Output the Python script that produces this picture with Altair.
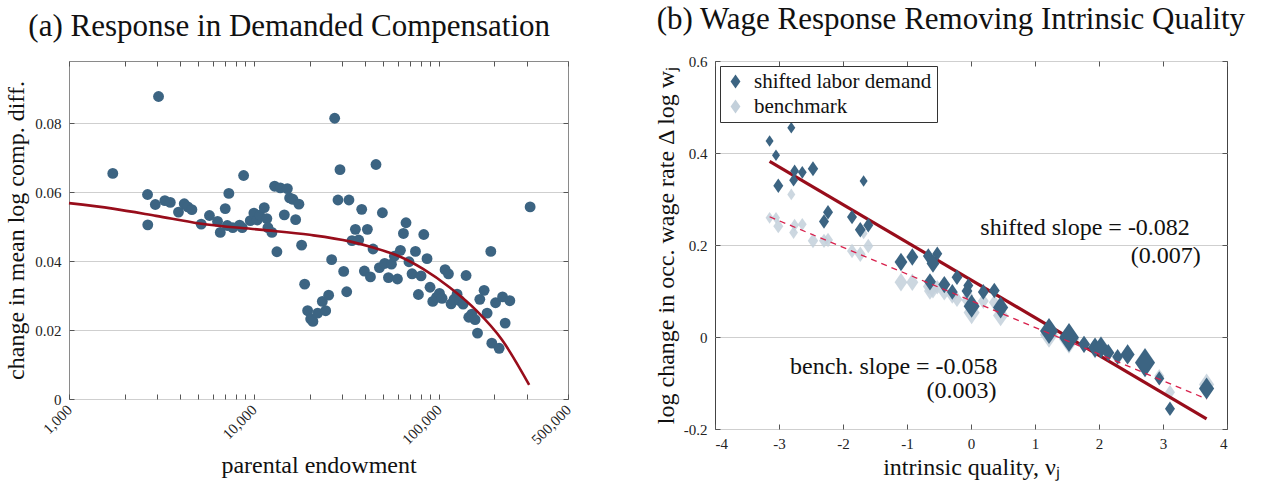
import altair as alt
import pandas as pd

# ---------------- Panel (a): demanded compensation by parental endowment ----------------
endowment = [
    1725, 3050, 2660, 2667, 2930, 3300, 3530, 3910, 4200, 4390, 4620, 5190, 5750, 6360,
    6580, 7000, 7320, 7180, 7690, 8370, 8650, 8800, 9560, 10000, 10430, 10740, 11380,
    11750, 11910, 12520, 12940, 13900, 15170, 15610, 16260, 14610, 17520, 16820, 13320,
    18120, 18820, 19530, 20280, 20860, 22130, 23450, 24450, 25370, 26340, 27350, 28500,
    29220, 30600, 31770, 32680, 33930, 35400, 36890, 38300, 39600, 41100, 42700, 44100,
    45760, 47750, 49550, 51000, 53430, 55460, 57550, 59760, 62030, 64400, 66500, 69000,
    71700, 74800, 77600, 80200, 82960, 86400, 89700, 92800, 97200, 100900, 104200,
    108200, 112800, 116600, 121000, 125600, 129900, 135400, 140500, 145300, 150900,
    157200, 162000, 166700, 175900, 182600, 191200, 202800, 221300, 242300, 228600,
    193600, 212100, 312000,
]
comp_change = [
    0.0654, 0.0877, 0.0593, 0.0505, 0.0564, 0.0575, 0.0570, 0.0542, 0.0566, 0.0557,
    0.0549, 0.0507, 0.0532, 0.0515, 0.0483, 0.0552, 0.0596, 0.0503, 0.0497, 0.0504,
    0.0497, 0.0648, 0.0517, 0.0539, 0.0519, 0.0533, 0.0555, 0.0523, 0.0497, 0.0483,
    0.0617, 0.0612, 0.0610, 0.0583, 0.0579, 0.0534, 0.0565, 0.0520, 0.0427, 0.0446,
    0.0333, 0.0256, 0.0232, 0.0225, 0.0249, 0.0283, 0.0256, 0.0301, 0.0404, 0.0814,
    0.0577, 0.0665, 0.0370, 0.0311, 0.0577, 0.0459, 0.0492, 0.0461, 0.0550, 0.0371,
    0.0492, 0.0354, 0.0435, 0.0680, 0.0381, 0.0540, 0.0393, 0.0352, 0.0391, 0.0414,
    0.0348, 0.0431, 0.0480, 0.0511, 0.0398, 0.0363, 0.0428, 0.0303, 0.0357, 0.0477,
    0.0407, 0.0324, 0.0283, 0.0295, 0.0306, 0.0292, 0.0375, 0.0363, 0.0276, 0.0289,
    0.0304, 0.0285, 0.0275, 0.0358, 0.0237, 0.0246, 0.0230, 0.0191, 0.0289, 0.0315,
    0.0249, 0.0428, 0.0279, 0.0296, 0.0285, 0.0220, 0.0162, 0.0147, 0.0557,
]
# smoothed fit through the bins
fit_endowment = [1000, 1725, 2960, 5080, 10740, 20030, 32960, 44100, 61490, 82220,
                 114700, 160000, 220100, 308300]
fit_comp = [0.0568, 0.0552, 0.0531, 0.0509, 0.0491, 0.0476, 0.0457, 0.0439, 0.0413,
            0.0377, 0.0323, 0.0256, 0.0171, 0.0041]

x_tick_values = [1000, 2000, 3000, 4000, 5000, 6000, 7000, 8000, 9000,
                 10000, 20000, 30000, 40000, 50000, 60000, 70000, 80000, 90000,
                 100000, 200000, 300000, 500000]
x_tick_labels = [1000, 10000, 100000, 500000]
y_tick_values_a = [0, 0.02, 0.04, 0.06, 0.08]

# ---------------- Panel (b): wage response vs intrinsic quality ----------------
quality = [
    -3.147, -2.808, -3.047, -3.011, -2.756, -2.772, -2.636, -2.469, -1.678, -2.234,
    -2.297, -1.859, -1.730, -1.605, -1.094, -0.917, -0.667, -0.527, -0.594, -0.641,
    -0.417, -0.219, -0.292, -0.042, -0.063, 0.010, 0.192, 0.364, 0.463, 1.219,
    1.531, 1.766, 1.938, 2.031, 2.145, 2.291, 2.447, 2.719, 2.942, 3.109, 3.681,
]
shifted = [
    0.426, 0.455, 0.395, 0.329, 0.361, 0.341, 0.358, 0.366, 0.339, 0.271,
    0.251, 0.261, 0.233, 0.243, 0.163, 0.174, 0.176, 0.181, 0.160, 0.120,
    0.114, 0.130, 0.098, 0.112, 0.100, 0.067, 0.098, 0.101, 0.064, 0.013,
    -0.001, -0.016, -0.023, -0.023, -0.034, -0.043, -0.038, -0.056, -0.090, -0.156, -0.112,
]
benchmark = [
    0.259, 0.310, 0.259, 0.241, 0.243, 0.227, 0.245, 0.209, 0.225, 0.211,
    0.209, 0.187, 0.180, 0.198, 0.119, 0.119, 0.110, 0.108, 0.104, 0.100,
    0.098, 0.082, 0.089, 0.090, 0.080, 0.053, 0.078, 0.075, 0.047, 0.005,
    -0.005, -0.016, -0.025, -0.022, -0.034, -0.045, -0.038, -0.055, -0.085, -0.120, -0.103,
]
weight = [
    1.0, 1.0, 1.0, 1.25, 1.1, 1.1, 1.1, 1.3, 1.0, 1.25,
    1.25, 1.25, 1.35, 1.25, 1.6, 1.5, 1.35, 1.25, 1.6, 1.5,
    1.5, 1.35, 1.35, 1.25, 1.35, 2.0, 1.35, 1.35, 1.9, 2.25,
    2.5, 1.5, 1.75, 1.9, 1.5, 1.35, 1.75, 2.5, 1.25, 1.25, 1.9,
]
shifted_slope, shifted_intercept = -0.082, 0.124
bench_slope, bench_intercept = -0.058, 0.0789
series_names = ["shifted labor demand", "benchmark"]

FONT = "Liberation Serif"
BLUE = "#3c6482"
LIGHT = "#c3d0db"
RED = "#980d1b"
DASH_RED = "#d8204c"
AXIS_GREY = "#555"
DIAMOND = "M0,-1.3L0.9,0L0,1.3L-0.9,0Z"
TICK = 5  # inward tick length


def main_axis(title, values, label_expr, grid, pad, **kw):
    """Labelled axis whose ticks point into the plot (axis shifted inward by TICK)."""
    return alt.Axis(
        title=title, values=values, labelExpr=label_expr, grid=grid, domain=False,
        offset=-TICK, tickSize=TICK, labelPadding=pad + TICK, **kw,
    )


def tick_axis(orient, values):
    """Unlabelled axis on the opposite side, ticks only, pointing inward."""
    return alt.Axis(
        orient=orient, values=values, labels=False, title=None, grid=False,
        domain=False, offset=-TICK, tickSize=TICK,
    )


# ---------------- build panel (a) ----------------
df_a = pd.DataFrame({"endowment": endowment, "comp": comp_change})
df_fit = pd.DataFrame({"endowment": fit_endowment, "comp": fit_comp})

scale_xa = alt.Scale(type="log", domain=[1000, 500000], nice=False)
scale_ya = alt.Scale(domain=[0, 0.098], nice=False)

pts_a = alt.Chart(df_a).mark_circle(size=118, color=BLUE, opacity=1).encode(
    x=alt.X("endowment:Q", scale=scale_xa, axis=main_axis(
        "parental endowment", x_tick_values,
        "indexof(%s, datum.value) >= 0 ? format(datum.value, ',') : ''" % x_tick_labels,
        False, 3, labelAngle=315, labelAlign="right", labelBaseline="middle",
        labelOverlap=False, titlePadding=6)),
    y=alt.Y("comp:Q", scale=scale_ya, axis=main_axis(
        "change in mean log comp. diff.", y_tick_values_a, "toString(datum.value)",
        True, 3, titlePadding=6)),
)
line_a = alt.Chart(df_fit).mark_line(color=RED, strokeWidth=2.6, interpolate="monotone").encode(
    x=alt.X("endowment:Q", scale=scale_xa, axis=tick_axis("top", x_tick_values)),
    y=alt.Y("comp:Q", scale=scale_ya, axis=tick_axis("right", y_tick_values_a)),
)
panel_a = alt.layer(pts_a, line_a).resolve_axis(x="independent", y="independent").properties(
    width=499, height=338,
    title=alt.TitleParams("(a) Response in Demanded Compensation", anchor="middle", frame="bounds"),
    view=alt.ViewBackground(stroke="#8a8a8a", strokeWidth=1),
)

# ---------------- build panel (b) ----------------
df_b = pd.DataFrame({
    "quality": quality * 2,
    "change": shifted + benchmark,
    "weight": weight * 2,
    "series": [series_names[0]] * len(quality) + [series_names[1]] * len(quality),
})
q_min, q_max = min(quality), max(quality)
df_lines = pd.DataFrame({
    "quality": [q_min, q_max, q_min, q_max],
    "change": [shifted_intercept + shifted_slope * q_min, shifted_intercept + shifted_slope * q_max,
               bench_intercept + bench_slope * q_min, bench_intercept + bench_slope * q_max],
    "fit": ["shifted", "shifted", "bench", "bench"],
})
df_text = pd.DataFrame({
    "quality": [3.42, 3.59, 0.416, 0.40],
    "change": [0.238, 0.177, -0.066, -0.118],
    "label": ["shifted slope = %.3f" % shifted_slope, "(0.007)",
              "bench. slope = %.3f" % bench_slope, "(0.003)"],
})

xb_values = [-4, -3, -2, -1, 0, 1, 2, 3, 4]
yb_values = [-0.2, 0, 0.2, 0.4, 0.6]
scale_xb = alt.Scale(domain=[-4, 4], nice=False)
scale_yb = alt.Scale(domain=[-0.2, 0.6], nice=False)

x_b = alt.X("quality:Q", scale=scale_xb, axis=main_axis(
    "intrinsic quality, νⱼ", xb_values, "toString(datum.value)", False, 2, titlePadding=4))
y_b = alt.Y("change:Q", scale=scale_yb, axis=main_axis(
    "log change in occ. wage rate Δ log wⱼ", yb_values, "toString(datum.value)", True, 3,
    titlePadding=5))
x_plain = alt.X("quality:Q", scale=scale_xb, axis=None)
y_plain = alt.Y("change:Q", scale=scale_yb, axis=None)
color_b = alt.Color(
    "series:N",
    scale=alt.Scale(domain=series_names, range=[BLUE, LIGHT]),
    legend=alt.Legend(
        title=None, orient="top-left", offset=5, fillColor="white", strokeColor="#333",
        padding=5, symbolType=DIAMOND, symbolSize=120, labelFontSize=21, rowPadding=3,
        symbolOpacity=1, labelFont=FONT, labelColor="#111", labelLimit=0, labelOffset=8,
    ),
)
size_b = alt.Size("weight:Q", scale=alt.Scale(type="pow", exponent=2, domain=[0, 2.5],
                                              range=[0, 494]), legend=None)

bench_pts = alt.Chart(df_b).transform_filter(alt.datum.series == series_names[1]).mark_point(
    shape=DIAMOND, filled=True, opacity=0.85
).encode(x=x_b, y=y_b, color=color_b, size=size_b)
shift_pts = alt.Chart(df_b).transform_filter(alt.datum.series == series_names[0]).mark_point(
    shape=DIAMOND, filled=True, opacity=1
).encode(x=x_plain, y=y_plain, color=color_b, size=size_b)
bench_line = alt.Chart(df_lines).transform_filter(alt.datum.fit == "bench").mark_line(
    color=DASH_RED, strokeWidth=1.3, strokeDash=[6, 5]
).encode(x=x_plain, y=y_plain)
notes = alt.Chart(df_text).mark_text(
    align="right", baseline="middle", font=FONT, fontSize=24, color="#111"
).encode(x=x_plain, y=y_plain, text="label:N")
shift_line = alt.Chart(df_lines).transform_filter(alt.datum.fit == "shifted").mark_line(
    color=RED, strokeWidth=3.2
).encode(
    x=alt.X("quality:Q", scale=scale_xb, axis=tick_axis("top", xb_values)),
    y=alt.Y("change:Q", scale=scale_yb, axis=tick_axis("right", yb_values)),
)

panel_b = alt.layer(bench_pts, shift_line, shift_pts, bench_line, notes).resolve_axis(
    x="independent", y="independent"
).properties(
    width=512, height=368,
    title=alt.TitleParams("(b) Wage Response Removing Intrinsic Quality", anchor="middle",
                          frame="bounds", dx=10),
    view=alt.ViewBackground(stroke="#444", strokeWidth=1),
)

chart = alt.hconcat(panel_a, panel_b, spacing=78).resolve_scale(
    color="independent", size="independent"
).properties(
    padding={"left": 4, "top": 3, "right": 5, "bottom": 5}
).configure_axis(
    labelFont=FONT, titleFont=FONT, labelFontSize=15, titleFontSize=24,
    labelColor="#222", titleColor="#111", titleFontWeight="normal",
    domainColor=AXIS_GREY, tickColor=AXIS_GREY, gridColor="#cfcfcf",
).configure_title(
    font=FONT, fontSize=31, fontWeight="normal", color="#111", offset=18,
)

chart.save("out.html", embed_options={"renderer": "svg", "actions": False})
